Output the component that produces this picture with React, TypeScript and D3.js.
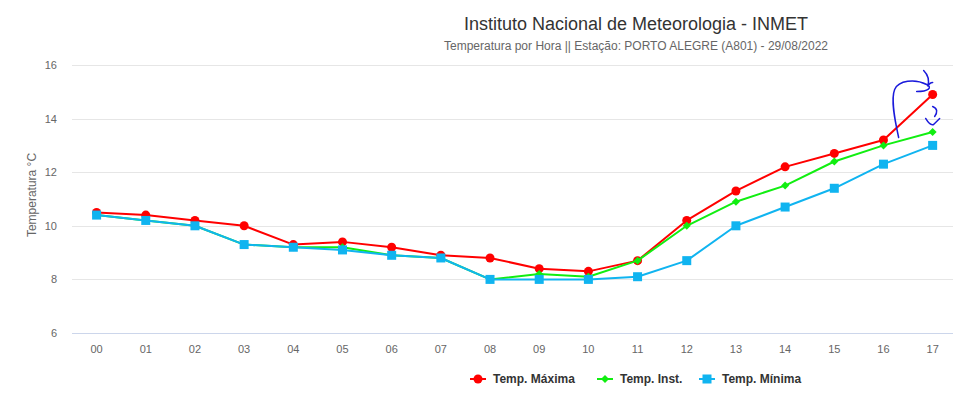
import { useEffect, useRef } from 'react'
import * as d3 from 'd3'

const hours = ['00', '01', '02', '03', '04', '05', '06', '07', '08', '09', '10', '11', '12', '13', '14', '15', '16', '17']
const tempMax = [10.5, 10.4, 10.2, 10.0, 9.3, 9.4, 9.2, 8.9, 8.8, 8.4, 8.3, 8.7, 10.2, 11.3, 12.2, 12.7, 13.2, 14.9]
const tempInst = [10.4, 10.2, 10.0, 9.3, 9.2, 9.2, 8.9, 8.8, 8.0, 8.2, 8.1, 8.7, 10.0, 10.9, 11.5, 12.4, 13.0, 13.5]
const tempMin = [10.4, 10.2, 10.0, 9.3, 9.2, 9.1, 8.9, 8.8, 8.0, 8.0, 8.0, 8.1, 8.7, 10.0, 10.7, 11.4, 12.3, 13.0]
const yTicks = [6, 8, 10, 12, 14, 16]

const series = [
  { name: 'Temp. Máxima', values: tempMax, color: '#ff0000', symbol: 'circle' },
  { name: 'Temp. Inst.', values: tempInst, color: '#11ee11', symbol: 'diamond' },
  { name: 'Temp. Mínima', values: tempMin, color: '#10b4f0', symbol: 'square' }
]

const W = 953
const H = 393
const font = '"Liberation Sans", Arial, sans-serif'

function drawSymbol(g: any, kind: string, x: number, y: number, color: string) {
  if (kind === 'circle') {
    g.append('circle').attr('cx', x).attr('cy', y).attr('r', 4.5).attr('fill', color)
  } else if (kind === 'diamond') {
    g.append('path')
      .attr('d', `M${x},${y - 4}L${x + 4},${y}L${x},${y + 4}L${x - 4},${y}Z`)
      .attr('fill', color)
  } else {
    g.append('rect').attr('x', x - 4.5).attr('y', y - 4.5).attr('width', 9).attr('height', 9).attr('fill', color)
  }
}

export default function App() {
  const svgRef = useRef<SVGSVGElement>(null)

  useEffect(() => {
    if (!svgRef.current) return
    const svg = d3.select(svgRef.current)
    svg.selectAll('*').remove()

    const left = 72
    const bandW = 49.18
    const x = d3.scaleBand().domain(hours).range([left, left + bandW * hours.length])
    const cx = (h: string) => (x(h) || 0) + x.bandwidth() / 2
    const y = d3.scaleLinear().domain([6, 16]).range([333, 65])

    // Title
    svg.append('text')
      .attr('x', 636).attr('y', 30)
      .attr('text-anchor', 'middle')
      .attr('font-family', font).attr('font-size', 18).attr('fill', '#333333')
      .text('Instituto Nacional de Meteorologia - INMET')
    svg.append('text')
      .attr('x', 636).attr('y', 50)
      .attr('text-anchor', 'middle')
      .attr('font-family', font).attr('font-size', 12).attr('fill', '#666666')
      .text('Temperatura por Hora || Estação: PORTO ALEGRE (A801) - 29/08/2022')

    // Grid
    const grid = svg.append('g')
    yTicks.forEach(t => {
      grid.append('line')
        .attr('x1', left).attr('x2', left + bandW * hours.length)
        .attr('y1', Math.round(y(t)) + 0.5).attr('y2', Math.round(y(t)) + 0.5)
        .attr('stroke', t === 6 ? '#ccd6eb' : '#e6e6e6').attr('stroke-width', 1)
      grid.append('text')
        .attr('x', 57).attr('y', y(t) + 4)
        .attr('text-anchor', 'end')
        .attr('font-family', font).attr('font-size', 11).attr('fill', '#666666')
        .text(t)
    })

    // x labels
    hours.forEach(h => {
      svg.append('text')
        .attr('x', cx(h)).attr('y', 353)
        .attr('text-anchor', 'middle')
        .attr('font-family', font).attr('font-size', 11).attr('fill', '#666666')
        .text(h)
    })

    // y axis title
    svg.append('text')
      .attr('transform', 'translate(36,195) rotate(-90)')
      .attr('text-anchor', 'middle')
      .attr('font-family', font).attr('font-size', 12).attr('fill', '#666666')
      .text('Temperatura °C')

    // Series
    const line = d3.line<number>().x((_, i) => cx(hours[i])).y(d => y(d))
    series.forEach(s => {
      const g = svg.append('g')
      g.append('path')
        .attr('d', line(s.values))
        .attr('fill', 'none').attr('stroke', s.color).attr('stroke-width', 2)
        .attr('stroke-linejoin', 'round')
      s.values.forEach((v, i) => drawSymbol(g, s.symbol, cx(hours[i]), y(v), s.color))
    })

    // Legend
    const legendX = [478, 605, 707]
    series.forEach((s, i) => {
      const g = svg.append('g')
      const lx = legendX[i]
      g.append('line')
        .attr('x1', lx - 8).attr('x2', lx + 8).attr('y1', 379).attr('y2', 379)
        .attr('stroke', s.color).attr('stroke-width', 2)
      drawSymbol(g, s.symbol, lx, 379, s.color)
      g.append('text')
        .attr('x', lx + 15).attr('y', 383)
        .attr('font-family', font).attr('font-size', 12).attr('font-weight', 'bold')
        .attr('fill', '#333333')
        .text(s.name)
    })

    // Hand-drawn annotation near the last point
    const ax = cx(hours[hours.length - 1])
    const ay = y(tempMax[tempMax.length - 1])
    const pen = svg.append('g')
      .attr('transform', `translate(${ax},${ay})`)
      .attr('fill', 'none').attr('stroke', '#1a1adb').attr('stroke-width', 1.5)
      .attr('stroke-linecap', 'round')
    pen.append('path').attr('d', 'M-34,43 C-38,25 -42,5 -38,-5 C-34,-14 -18,-16 -6,-10 C0,-7 -4,-3 -16,-3')
    pen.append('path').attr('d', 'M-9,-24 C-5,-20 -3,-14 -5,-8 C-4,-10 -2,-12 0,-12')
    pen.append('path').attr('d', 'M0,12 C5,14 5,18 2,22')
    pen.append('path').attr('d', 'M-7,24 C-4,29 -1,31 1,30 C3,28 5,26 7,24')
  }, [])

  return (
    <svg
      ref={svgRef}
      width={W}
      height={H}
      style={{ position: 'absolute', left: 0, top: 0, background: '#ffffff' }}
    />
  )
}
